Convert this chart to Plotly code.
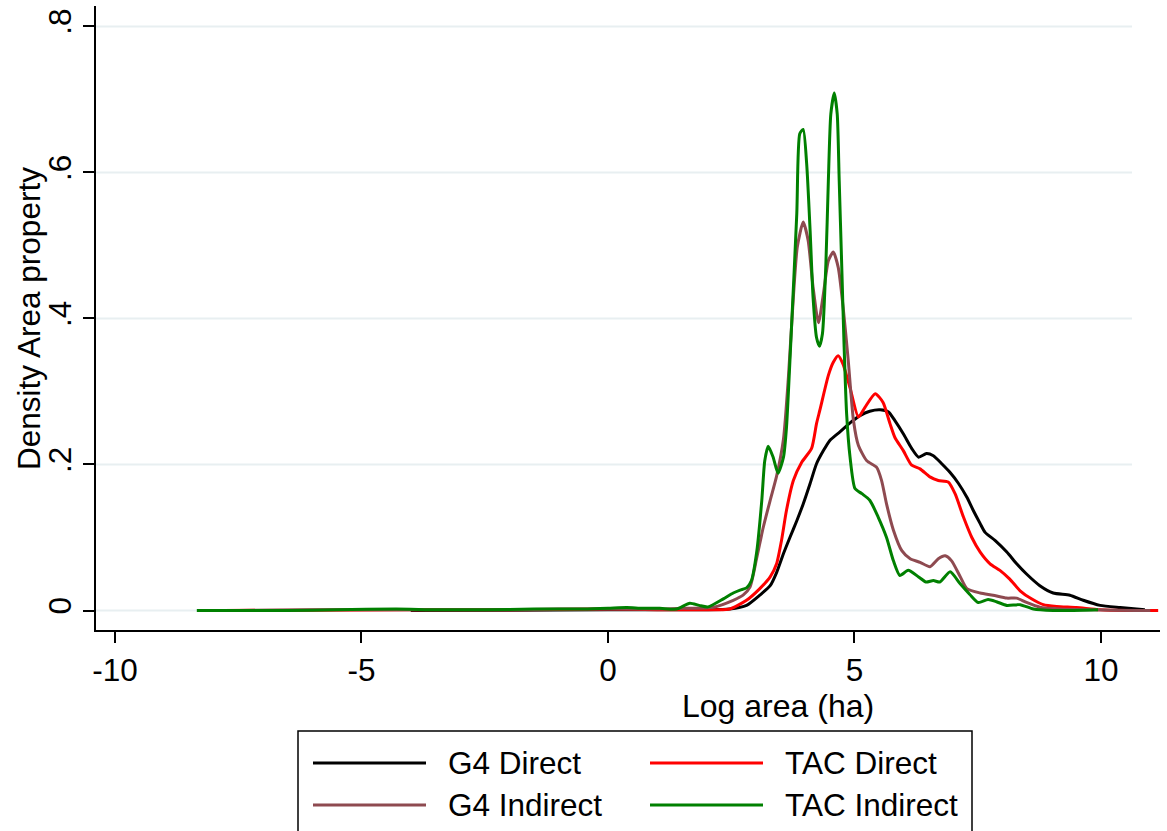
import plotly.graph_objects as go

# ---------------- data ----------------
g4_direct_x = [-4.0, -2.0, 0.0, 1.0, 1.5, 2.0, 2.47, 2.81, 3.08, 3.29, 3.42, 3.56, 3.69, 3.83,
               3.96, 4.10, 4.23, 4.37, 4.50, 4.71, 4.91, 5.11, 5.31, 5.52, 5.69, 5.82, 5.99,
               6.16, 6.30, 6.46, 6.60, 6.77, 6.94, 7.11, 7.28, 7.41, 7.55, 7.65, 7.85, 8.09,
               8.29, 8.49, 8.76, 9.03, 9.37, 9.64, 9.98, 10.39, 10.89]
g4_direct_y = [0.0, 0.0005, 0.001, 0.001, 0.001, 0.001, 0.002, 0.007, 0.021, 0.034, 0.052,
               0.078, 0.100, 0.123, 0.146, 0.174, 0.201, 0.219, 0.233, 0.245, 0.257, 0.267,
               0.273, 0.275, 0.272, 0.260, 0.242, 0.222, 0.210, 0.215, 0.212, 0.201, 0.189,
               0.174, 0.155, 0.137, 0.119, 0.107, 0.096, 0.080, 0.064, 0.050, 0.034, 0.024,
               0.021, 0.014, 0.007, 0.004, 0.001]

tac_direct_x = [-7.8, -6.0, -4.0, -2.0, 0.0, 1.0, 1.8, 2.2, 2.47, 2.81, 3.08, 3.29, 3.42, 3.52,
                3.62, 3.76, 3.93, 4.13, 4.23, 4.30, 4.47, 4.57, 4.67, 4.77, 4.91, 5.08, 5.21,
                5.42, 5.58, 5.72, 5.82, 5.99, 6.16, 6.33, 6.53, 6.70, 6.90, 7.04, 7.21, 7.38,
                7.55, 7.75, 7.95, 8.15, 8.36, 8.59, 8.83, 9.10, 9.50, 9.98, 10.52, 11.16]
tac_direct_y = [0.0, 0.0005, 0.001, 0.001, 0.002, 0.001, 0.001, 0.001, 0.002, 0.014, 0.030,
                0.046, 0.064, 0.096, 0.137, 0.178, 0.203, 0.222, 0.256, 0.275, 0.322, 0.340,
                0.349, 0.337, 0.305, 0.265, 0.278, 0.297, 0.285, 0.256, 0.237, 0.219, 0.199,
                0.194, 0.183, 0.178, 0.176, 0.160, 0.128, 0.100, 0.080, 0.064, 0.055, 0.043,
                0.027, 0.016, 0.008, 0.0055, 0.004, 0.001, 0.0, 0.0]

g4_indirect_x = [-7.5, -6.0, -4.0, -2.0, -1.0, 0.0, 1.0, 1.5, 2.14, 2.54, 2.74, 2.88, 3.02,
                 3.15, 3.29, 3.42, 3.56, 3.66, 3.76, 3.84, 3.96, 4.06, 4.16, 4.27, 4.37, 4.47,
                 4.57, 4.67, 4.77, 4.87, 4.98, 5.08, 5.25, 5.45, 5.55, 5.65, 5.79, 5.96, 6.13,
                 6.33, 6.53, 6.70, 6.84, 6.97, 7.14, 7.28, 7.55, 7.81, 8.09, 8.29, 8.49, 8.76,
                 9.17, 9.84, 10.72, 11.0]
g4_indirect_y = [0.0, 0.001, 0.001, 0.001, 0.002, 0.002, 0.002, 0.003, 0.0045, 0.014, 0.021,
                 0.032, 0.073, 0.114, 0.151, 0.184, 0.235, 0.320, 0.429, 0.498, 0.532, 0.507,
                 0.443, 0.394, 0.434, 0.479, 0.491, 0.470, 0.415, 0.345, 0.260, 0.226, 0.205,
                 0.196, 0.178, 0.146, 0.110, 0.082, 0.071, 0.066, 0.060, 0.071, 0.075, 0.068,
                 0.047, 0.030, 0.024, 0.021, 0.017, 0.017, 0.011, 0.0045, 0.002, 0.001, 0.0, 0.0]

tac_indirect_x = [-8.34, -7.5, -6.5, -5.5, -4.3, -3.5, -2.5, -1.5, -0.5, 0.0, 0.38, 0.7, 1.05,
                  1.39, 1.66, 1.85, 2.03, 2.34, 2.54, 2.68, 2.81, 2.91, 3.02, 3.12, 3.18, 3.25,
                  3.35, 3.45, 3.56, 3.62, 3.72, 3.83, 3.89, 3.96, 4.03, 4.10, 4.16, 4.23, 4.29,
                  4.35, 4.42, 4.47, 4.52, 4.59, 4.65, 4.69, 4.74, 4.79, 4.84, 4.91, 5.01, 5.15,
                  5.31, 5.48, 5.65, 5.79, 5.92, 6.09, 6.30, 6.45, 6.60, 6.73, 6.94, 7.14, 7.34,
                  7.51, 7.71, 7.88, 8.09, 8.36, 8.63, 9.03, 9.37, 9.94]
tac_indirect_y = [0.0, 0.0, 0.0, 0.001, 0.002, 0.001, 0.001, 0.002, 0.002, 0.003, 0.004, 0.003,
                  0.003, 0.002, 0.010, 0.007, 0.005, 0.016, 0.024, 0.028, 0.031, 0.041, 0.082,
                  0.151, 0.205, 0.225, 0.210, 0.188, 0.210, 0.250, 0.384, 0.544, 0.653, 0.659,
                  0.612, 0.520, 0.429, 0.374, 0.362, 0.379, 0.475, 0.589, 0.680, 0.709, 0.680,
                  0.589, 0.475, 0.361, 0.270, 0.210, 0.167, 0.160, 0.151, 0.128, 0.100, 0.068,
                  0.048, 0.055, 0.046, 0.039, 0.041, 0.039, 0.053, 0.037, 0.022, 0.011, 0.015,
                  0.012, 0.007, 0.008, 0.002, 0.0, 0.0, 0.001]

series_names = ["G4 Direct", "TAC Direct", "G4 Indirect", "TAC Indirect"]
series_colors = ["#000000", "#ff0000", "#8e4a50", "#008000"]
x_ticks = [-10, -5, 0, 5, 10]
y_ticks = [0, 0.2, 0.4, 0.6, 0.8]
y_tick_labels = ["0", ".2", ".4", ".6", ".8"]

# ---------------- layout geometry ----------------
W, H = 1167, 831
ML, MR, MT, MB = 96, 7, 6, 201
PW, PH = W - ML - MR, H - MT - MB
FONT = "Liberation Sans, Arial, sans-serif"
FS = 31.5


def px(xp):
    return (xp - ML) / PW


def py(yp):
    return (H - MB - yp) / PH


fig = go.Figure()
all_x = [g4_direct_x, tac_direct_x, g4_indirect_x, tac_indirect_x]
all_y = [g4_direct_y, tac_direct_y, g4_indirect_y, tac_indirect_y]
for xs, ys, name, col in zip(all_x, all_y, series_names, series_colors):
    fig.add_trace(go.Scatter(x=xs, y=ys, mode="lines", name=name,
                             line=dict(color=col, width=3, shape="spline", smoothing=0.6),
                             showlegend=False))

shapes = []
# horizontal gridlines (Stata style, stop before right edge)
for yv in y_ticks:
    shapes.append(dict(type="line", xref="x", yref="y", x0=-10.385, x1=10.63, y0=yv, y1=yv,
                       line=dict(color="#e8eff1", width=2), layer="below"))

# legend box
shapes.append(dict(type="rect", xref="paper", yref="paper",
                   x0=px(298), x1=px(972), y0=py(731), y1=py(850),
                   line=dict(color="#000000", width=1.5), fillcolor="rgba(0,0,0,0)"))
annotations = []
leg_pos = [(313, 763), (650, 763), (313, 805), (650, 805)]
for (lx, ly), name, col in zip(leg_pos, series_names, series_colors):
    shapes.append(dict(type="line", xref="paper", yref="paper",
                       x0=px(lx), x1=px(lx + 113), y0=py(ly), y1=py(ly),
                       line=dict(color=col, width=3)))
    annotations.append(dict(xref="paper", yref="paper", x=px(lx + 133), y=py(ly),
                            text=name, showarrow=False, xanchor="left", yanchor="middle",
                            font=dict(family=FONT, size=31.5, color="#000000")))

# axis titles
annotations.append(dict(xref="paper", yref="paper", x=px(778), y=py(706),
                        text="Log area (ha)", showarrow=False, xanchor="center",
                        yanchor="middle", font=dict(family=FONT, size=32, color="#000000")))
annotations.append(dict(xref="paper", yref="paper", x=px(29), y=py(319),
                        text="Density Area property", showarrow=False, textangle=-90,
                        xanchor="center", yanchor="middle",
                        font=dict(family=FONT, size=31.5, color="#000000")))

fig.update_layout(
    width=W, height=H,
    margin=dict(l=ML, r=MR, t=MT, b=MB, pad=0),
    paper_bgcolor="white", plot_bgcolor="white",
    font=dict(family=FONT, size=FS, color="#000000"),
    shapes=shapes, annotations=annotations,
    showlegend=False,
)
fig.update_xaxes(range=[-10.385, 11.197], tickvals=x_ticks, ticktext=[str(v) for v in x_ticks],
                 showgrid=False, zeroline=False, showline=True, linecolor="#000000",
                 linewidth=1.5, ticks="outside", ticklen=11, tickwidth=1.5,
                 tickcolor="#000000", tickfont=dict(family=FONT, size=FS))
fig.update_yaxes(range=[-0.0267, 0.828], tickvals=y_ticks, ticktext=y_tick_labels,
                 showgrid=False, zeroline=False, showline=True, linecolor="#000000",
                 linewidth=1.5, ticks="outside", ticklen=11, tickwidth=1.5,
                 tickcolor="#000000", tickangle=-90, tickfont=dict(family=FONT, size=FS))

fig.write_html("out.html")
